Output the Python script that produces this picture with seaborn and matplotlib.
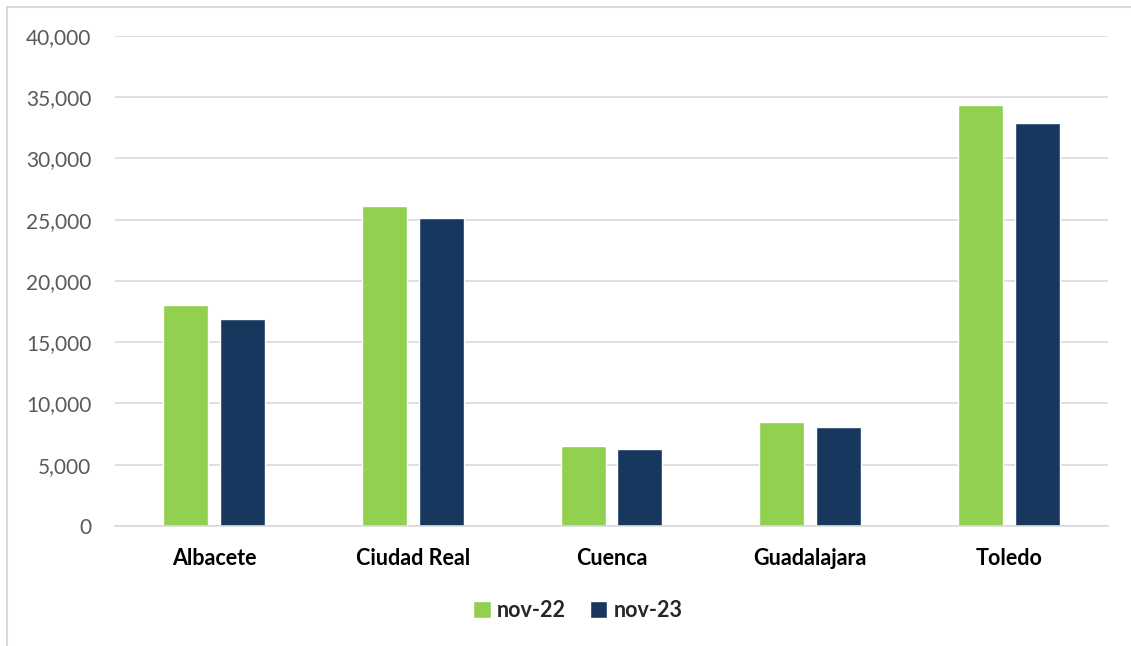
import pandas as pd
import matplotlib
matplotlib.use('Agg')
import matplotlib.pyplot as plt
import seaborn as sns
from matplotlib.ticker import FuncFormatter
from matplotlib.patches import Rectangle

# Data
provincias = ['Albacete', 'Ciudad Real', 'Cuenca', 'Guadalajara', 'Toledo']
nov_22 = [18030, 26100, 6500, 8460, 34330]
nov_23 = [16890, 25170, 6320, 8110, 32900]
series = ['nov-22', 'nov-23']
colores = ['#92D050', '#17375E']

df = pd.DataFrame({
    'provincia': provincias * 2,
    'periodo': [series[0]] * len(provincias) + [series[1]] * len(provincias),
    'valor': nov_22 + nov_23,
})

sns.set_theme(style='white')
plt.rcParams['font.family'] = ['Lato', 'DejaVu Sans']

fig = plt.figure(figsize=(11.31, 6.46), dpi=100)
ax = fig.add_axes([0.1017, 0.1858, 0.878, 0.7585])

sns.barplot(data=df, x='provincia', y='valor', hue='periodo',
            palette=colores, width=0.572, gap=0.21, ax=ax,
            saturation=1, legend=True)

ax.set_ylim(0, 40000)
ax.set_yticks(range(0, 40001, 5000))
ax.yaxis.set_major_formatter(FuncFormatter(lambda v, p: f'{int(v):,}'))
ax.grid(axis='y', color='#D9D9D9', linewidth=1.2)
ax.set_axisbelow(True)
for s in ['top', 'right', 'left']:
    ax.spines[s].set_visible(False)
ax.spines['bottom'].set_color('#D9D9D9')
ax.spines['bottom'].set_linewidth(1.2)
ax.set_xlim(-0.5, 4.5)
ax.set_xlabel('')
ax.set_ylabel('')
ax.tick_params(axis='y', length=0, pad=17, labelsize=15, labelcolor='#595959')
ax.tick_params(axis='x', length=0, pad=16, labelsize=15.5, labelcolor='black')
for lbl in ax.get_xticklabels():
    lbl.set_fontweight('bold')

ax.legend_.remove()
handles, labels = ax.get_legend_handles_labels()
fig.legend(handles, labels, loc='center', bbox_to_anchor=(0.511, 0.055),
           ncol=2, frameon=False, handlelength=0.8, handleheight=0.8,
           handletextpad=0.3, columnspacing=1.1,
           prop={'weight': 'bold', 'size': 15.5})

# light frame around the chart area
fig.patches.append(Rectangle((7 / 1131, -0.01), 1.02, 1 - 7 / 646 + 0.01,
                             transform=fig.transFigure, fill=False,
                             edgecolor='#D9D9D9', linewidth=1.5))

fig.savefig('out.png', dpi=100)
